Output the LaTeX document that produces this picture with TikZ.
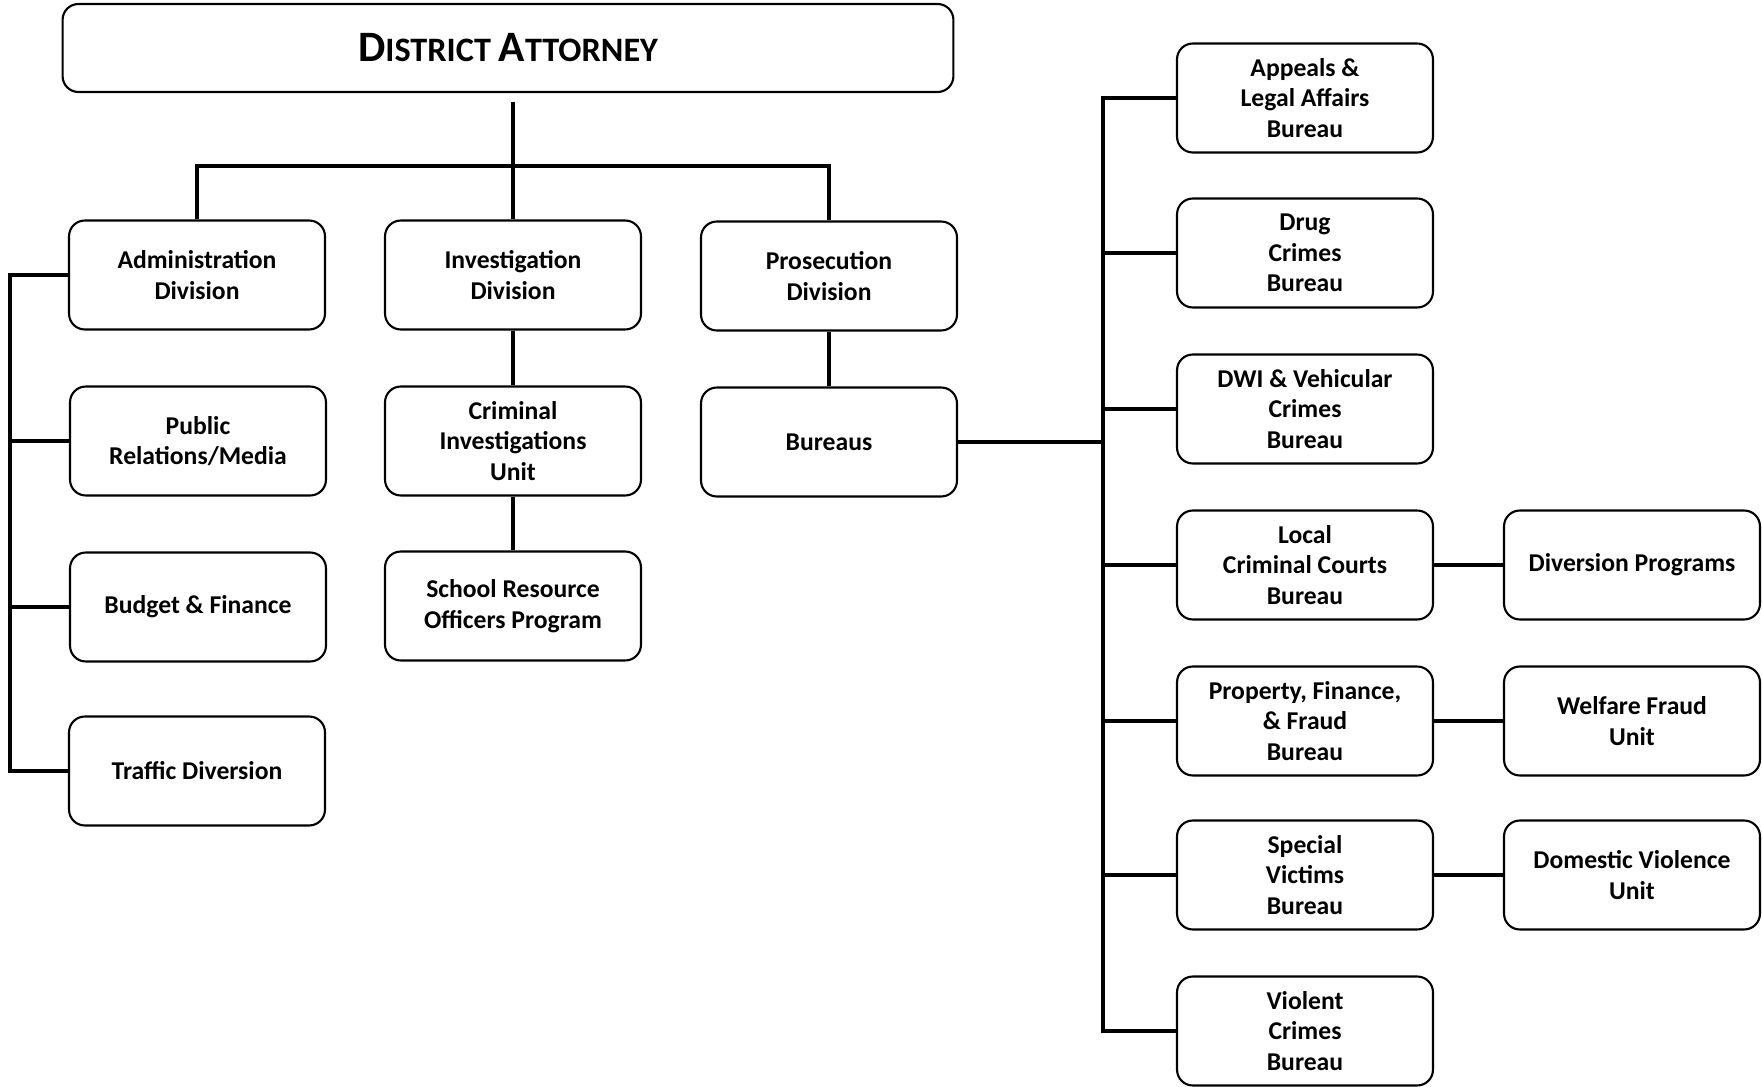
\documentclass[tikz,border=0pt]{standalone}
\usepackage{fontspec}
\setmainfont{Carlito}
\usetikzlibrary{positioning}

\tikzset{
 unit/.style={draw, line width=1.2pt, rounded corners=9pt,
  minimum width=5.12cm, minimum height=2.18cm, inner sep=0pt,
  align=center, font=\fontsize{14.6}{17.4}\selectfont\bfseries},
 link/.style={line width=2.2pt},
}

\begin{document}
\begin{tikzpicture}[x=0.02cm,y=-0.02cm]
 \useasboundingbox
 (0,0) rectangle (1762,1087)
 ;
 % top
 \node[unit, minimum width=17.82cm, minimum height=1.76cm,
  font=\bfseries] (da) at (508,48)
  {\fontsize{24.7}{28}\selectfont D\fontsize{19.5}{24}\selectfont ISTRICT
   \fontsize{24.7}{28}\selectfont A\fontsize{19.5}{24}\selectfont TTORNEY};
 \node[unit] (admin) at (197,275) {Administration\\Division};
 \node[unit] (invest) at (513,275) {Investigation\\Division};
 \node[unit] (prosec) at (829,276) {Prosecution\\Division};
 % administration
 \node[unit] (public) at (198,441) {Public\\Relations/Media};
 \node[unit] (budget) at (198,607) {Budget \& Finance};
 \node[unit] (traffic) at (197,771) {Traffic Diversion};
 % investigation
 \node[unit] (ciu) at (513,441) {Criminal\\Investigations\\Unit};
 \node[unit] (sro) at (513,606) {School Resource\\Officers Program};
 % prosecution
 \node[unit] (bureaus) at (829,442) {Bureaus};
 \node[unit] (appeals) at (1305,98) {Appeals \&\\Legal Affairs\\Bureau};
 \node[unit] (drug) at (1305,253) {Drug\\Crimes\\Bureau};
 \node[unit] (dwi) at (1305,409) {DWI \& Vehicular\\Crimes\\Bureau};
 \node[unit] (local) at (1305,565) {Local\\Criminal Courts\\Bureau};
 \node[unit] (property) at (1305,721) {Property, Finance,\\\& Fraud\\Bureau};
 \node[unit] (special) at (1305,875) {Special\\Victims\\Bureau};
 \node[unit] (violent) at (1305,1031) {Violent\\Crimes\\Bureau};
 \node[unit] (diversion) at (1632,565) {Diversion Programs};
 \node[unit] (welfare) at (1632,721) {Welfare Fraud\\Unit};
 \node[unit] (domestic) at (1632,875) {Domestic Violence\\Unit};

 \coordinate (bar) at (0,166);
 \coordinate (lspine) at (10,0);
 \coordinate (rspine) at (1103,0);

 \draw[link, shorten <=0.18cm] (invest.north |- da.south) -- (invest.north);
 \draw[link, line width=2.8pt]
 (admin.north) -- (admin.north |- bar) -- (prosec.north |- bar) -- (prosec.north)
 ;
 \draw[link] (invest.south) -- (ciu.north);
 \draw[link] (ciu.south) -- (sro.north);
 \draw[link] (prosec.south) -- (bureaus.north);

 \draw[link]
 (admin.west) -- (admin.west -| lspine) -- (traffic.west -| lspine) -- (traffic.west)
 ;
 \draw[link] (public.west) -- (public.west -| lspine);
 \draw[link] (budget.west) -- (budget.west -| lspine);

 \draw[link] (bureaus.east) -- (bureaus.east -| rspine);
 \draw[link]
 (appeals.west) -- (appeals.west -| rspine) -- (violent.west -| rspine) -- (violent.west)
 ;
 \draw[link] (drug.west) -- (drug.west -| rspine);
 \draw[link] (dwi.west) -- (dwi.west -| rspine);
 \draw[link] (local.west) -- (local.west -| rspine);
 \draw[link] (property.west) -- (property.west -| rspine);
 \draw[link] (special.west) -- (special.west -| rspine);

 \draw[link] (local.east) -- (diversion.west);
 \draw[link] (property.east) -- (welfare.west);
 \draw[link] (special.east) -- (domestic.west);
\end{tikzpicture}
\end{document}
